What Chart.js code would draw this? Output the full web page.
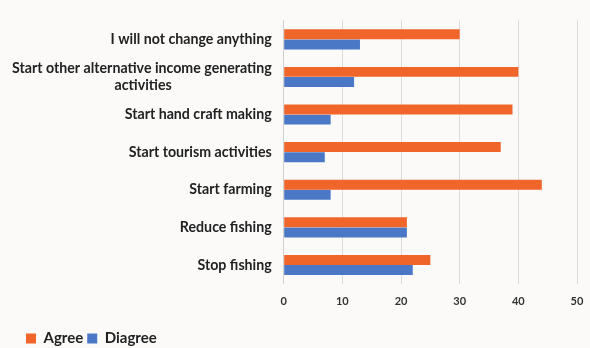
<!DOCTYPE html>
<html>
<head>
<meta charset="utf-8">
<script src="https://cdn.jsdelivr.net/npm/chart.js@4.4.0/dist/chart.umd.min.js"></script>
<style>
    html, body { margin: 0; padding: 0; background: #fbfaf9; }
    #wrap { width: 590px; height: 348px; position: relative; }
</style>
</head>
<body>
<div id="wrap"><canvas id="myBarChart"></canvas></div>
<script>
const categories = [
    'I will not change anything',
    ['Start other alternative income generating', 'activities'],
    'Start hand craft making',
    'Start tourism activities',
    'Start farming',
    'Reduce fishing',
    'Stop fishing'
];
const agreeValues = [30, 40, 39, 37, 44, 21, 25];
const disagreeValues = [13, 12, 8, 7, 8, 21, 22];
const seriesNames = ['Agree', 'Diagree'];
const xTicks = [0, 10, 20, 30, 40, 50];

const labelSize = 14.2;

// second line of the long label is centred under the first one
function centerLines(label, ctx) {
    if (!Array.isArray(label)) return label;
    const w0 = ctx.measureText(label[0]).width;
    const w1 = ctx.measureText(label[1]).width;
    const sp = ctx.measureText(' ').width;
    const n = Math.round((w0 - w1) / 2 / sp);
    return [label[0], label[1] + ' '.repeat(n)];
}

// move the legend a bit right and down, like the original
const legendShift = {
    id: 'legendShift',
    afterLayout(chart) {
        chart.legend.left += 22;
        chart.legend.top += 8;
        chart.legend.bottom += 8;
    }
};

const ctx = document.getElementById('myBarChart').getContext('2d');
ctx.font = 'bold ' + labelSize + 'px Lato';
const labels = categories.map(l => centerLines(l, ctx));

const chart = new Chart(ctx, {
    type: 'bar',
    data: {
        labels: labels,
        datasets: [{
            label: seriesNames[0],
            data: agreeValues,
            backgroundColor: '#f0652a',
            barPercentage: 0.98,
            categoryPercentage: 0.54
        }, {
            label: seriesNames[1],
            data: disagreeValues,
            backgroundColor: '#4a78c6',
            barPercentage: 0.98,
            categoryPercentage: 0.54
        }]
    },
    options: {
        indexAxis: 'y',
        responsive: true,
        maintainAspectRatio: false,
        animation: false,
        layout: { padding: { top: 16, left: 0, right: 13, bottom: 0 } },
        scales: {
            x: {
                min: 0,
                max: 50,
                afterBuildTicks: (scale) => { scale.ticks = xTicks.map(v => ({ value: v })); },
                afterFit: (scale) => { scale.paddingRight = 0; },
                grid: { color: '#dcdcdc', drawTicks: false },
                border: { display: false },
                ticks: {
                    padding: 11,
                    color: '#333',
                    font: { family: 'Lato', size: 11, weight: 'bold' }
                }
            },
            y: {
                grid: { display: false, drawTicks: false },
                border: { display: true, color: '#d0d0d0' },
                ticks: {
                    padding: 12,
                    color: '#222',
                    font: { family: 'Lato', size: labelSize, weight: 'bold' }
                }
            }
        },
        plugins: {
            legend: {
                position: 'bottom',
                align: 'start',
                labels: {
                    boxWidth: 10,
                    boxHeight: 10,
                    padding: 4,
                    color: '#222',
                    font: { family: 'Lato', size: 15, weight: 'bold' }
                }
            },
            tooltip: { enabled: false }
        }
    },
    plugins: [legendShift]
});
</script>
</body>
</html>
